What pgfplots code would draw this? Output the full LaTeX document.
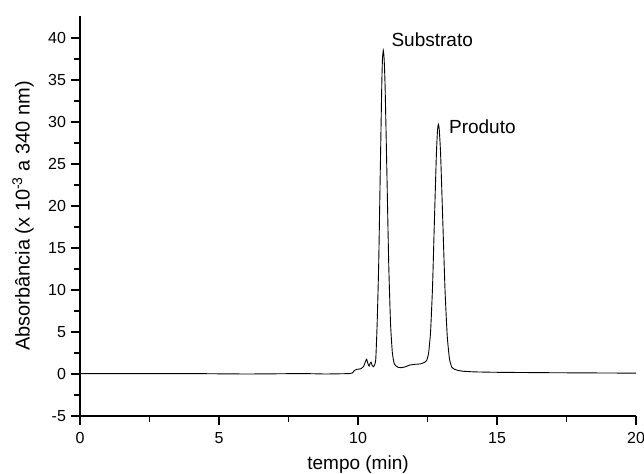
\documentclass[border=0pt]{standalone}
\usepackage{pgfplots}
\pgfplotsset{compat=1.18}
\usepackage{fontspec}
\setmainfont{Liberation Sans}

\begin{document}
\begin{tikzpicture}
\begin{axis}[
  width=556pt, height=400pt, scale only axis,
  xmin=0, xmax=20, ymin=-5, ymax=42.6,
  axis x line*=bottom, axis y line*=left,
  axis line style={line width=1.6pt,-},
  xtick={0,5,10,15,20}, ytick={-5,0,5,...,40},
  minor x tick num=1, minor y tick num=1,
  tick align=outside,
  major tick length=8.5pt, minor tick length=5.5pt,
  every tick/.style={line width=1.4pt,black},
  /pgf/number format/assume math mode=true,
  tick label style={font=\fontsize{16}{16}\selectfont},
  yticklabel style={xshift=-2pt},
  xticklabel style={yshift=-4pt},
  xlabel={tempo (min)},
  ylabel={Absorbância (x 10\textsuperscript{-3} a 340 nm)},
  xlabel style={font=\fontsize{19}{19}\selectfont, inner sep=0pt, at={(axis description cs:0.5,-0.135)}, anchor=base},
  ylabel style={font=\fontsize{20}{20}\selectfont, inner sep=0pt, at={(axis description cs:-0.1025,0.5)}, anchor=center},
  clip=false,
]
\addplot[black, line width=0.9pt, smooth, tension=0.3] coordinates {
  (0,0.05) (1,0.05) (2,0.05) (3,0.05) (4,0.05) (5,0.02) (6,0.0) (7,0.02)
  (8,0.05) (8.8,0.0) (9.3,0.02) (9.7,0.05) (9.8,0.12) (9.87,0.42)
  (9.95,0.55) (10.1,0.62) (10.2,0.9) (10.27,1.5) (10.31,1.75) (10.36,1.2)
  (10.40,0.95) (10.44,1.3) (10.47,1.4) (10.51,1.0) (10.56,0.87) (10.60,1.1)
  (10.64,1.8) (10.69,6.1) (10.745,13.2) (10.80,23.9) (10.855,34.4)
  (10.88,37.5) (10.91,38.5) (10.94,37.5) (10.975,34.2) (11.04,23.8)
  (11.105,13.1) (11.17,6.0) (11.235,2.55) (11.30,1.27) (11.37,0.95)
  (11.45,0.78) (11.55,0.75) (11.7,0.85) (11.85,1.05) (12.05,1.15)
  (12.25,1.2) (12.40,1.4) (12.47,1.6) (12.54,2.5) (12.61,5.0) (12.68,10.3)
  (12.75,18.4) (12.82,26.2) (12.86,29.0) (12.89,29.7) (12.92,29.2)
  (12.97,26.3) (13.05,18.2) (13.13,10.0) (13.21,4.5) (13.29,1.8)
  (13.37,0.82) (13.45,0.6) (13.6,0.42) (13.8,0.32) (14.2,0.25) (15,0.2)
  (17,0.15) (20,0.1)
};
\node[anchor=base west, inner sep=0pt, font=\fontsize{19}{19}\selectfont] at (axis cs:11.2,39.0) {Substrato};
\node[anchor=base west, inner sep=0pt, font=\fontsize{19}{19}\selectfont] at (axis cs:13.27,28.6) {Produto};
% page corners around the axis
\coordinate (bl) at ([shift={(-80pt,-57pt)}]rel axis cs:0,0);
\coordinate (tr) at ([shift={(8pt,16pt)}]rel axis cs:1,1);
\end{axis}
\pgfresetboundingbox
\useasboundingbox (bl) rectangle (tr);
\end{tikzpicture}
\end{document}
